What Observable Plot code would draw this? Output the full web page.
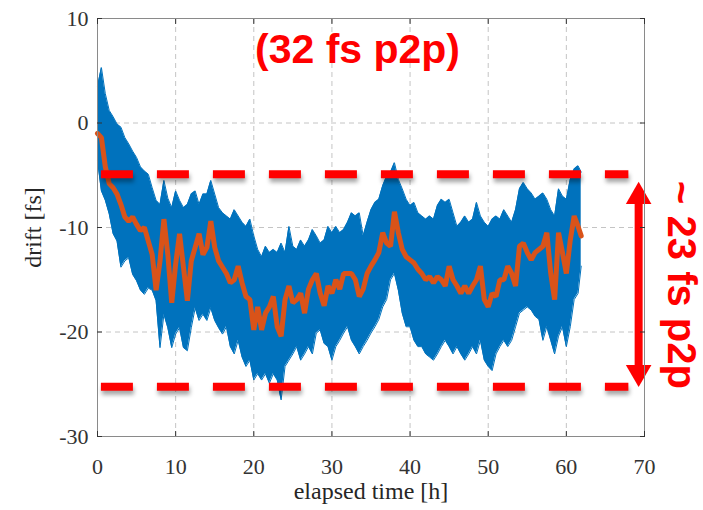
<!DOCTYPE html>
<html>
<head>
<meta charset="utf-8">
<script src="https://cdn.jsdelivr.net/npm/d3@7"></script>
<script src="https://cdn.jsdelivr.net/npm/@observablehq/plot@0.6"></script>
<style>
  html, body { margin: 0; padding: 0; background: #fff; }
  .shadow { filter: drop-shadow(1px 4px 2px rgba(0,0,0,0.35)); }
</style>
</head>
<body>
<div id="chart"></div>
<script>
// ---- data ----
const hours = [...d3.range(0, 61.6, 0.5), 61.9];

const driftUpper = [
  3.5, 5.3, 2.8, 1.2, 0.6, -0.1, -0.4, -1.4, -2.0, -2.7,
  -3.3, -4.2, -4.6, -4.9, -6.2, -7.4, -7.8, -5.5, -7.2, -8.1,
  -6.5, -7.4, -8.1, -7.8, -6.8, -6.5, -7.8, -6.8, -6.8, -5.5,
  -6.8, -8.1, -8.6, -8.9, -9.2, -8.3, -8.9, -9.5, -9.9, -9.2,
  -10.8, -12.1, -12.8, -11.8, -12.4, -12.1, -12.4, -11.5, -12.4, -9.9,
  -11.8, -12.1, -11.2, -11.8, -11.2, -10.2, -10.8, -11.5, -11.2, -9.9,
  -10.5, -9.9, -10.5, -10.2, -9.5, -8.6, -8.9, -8.6, -10.8, -9.5,
  -8.3, -7.6, -7.3, -6.0, -5.1, -4.7, -3.8, -5.4, -6.3, -7.3,
  -7.9, -7.6, -8.6, -8.9, -9.2, -8.9, -9.2, -7.9, -7.3, -7.6,
  -7.3, -8.6, -9.9, -9.5, -8.9, -9.5, -9.2, -7.6, -8.9, -9.5,
  -9.9, -9.2, -8.9, -9.2, -8.3, -8.9, -9.5, -8.3, -6.3, -5.7,
  -6.3, -6.7, -7.3, -7.0, -6.7, -7.3, -8.3, -8.9, -6.3, -7.0,
  -7.3, -5.4, -4.4, -4.1, -4.7
];

const driftLower = [
  -3.6, -6.5, -7.4, -8.7, -10.6, -11.3, -13.8, -13.2, -12.9, -14.5,
  -15.1, -16.0, -16.4, -15.8, -16.0, -17.0, -21.5, -18.3, -19.6, -21.5,
  -20.2, -19.6, -21.5, -21.8, -19.6, -17.7, -18.9, -18.3, -18.9, -17.7,
  -18.9, -19.6, -20.2, -19.5, -21.4, -22.1, -20.8, -22.4, -23.3, -22.7,
  -24.6, -24.0, -24.6, -24.0, -24.9, -24.0, -24.6, -26.5, -23.3, -22.7,
  -22.1, -21.4, -22.7, -22.1, -21.4, -22.1, -20.1, -19.8, -21.1, -21.4,
  -22.7, -21.4, -20.8, -20.1, -19.5, -20.8, -21.4, -22.1, -21.4, -20.8,
  -20.1, -19.5, -18.8, -17.6, -16.9, -15.0, -14.4, -16.0, -18.2, -19.5,
  -19.5, -20.8, -21.4, -21.4, -22.1, -22.4, -22.7, -22.1, -21.4, -20.8,
  -21.4, -22.1, -21.4, -22.1, -22.7, -22.1, -21.4, -22.1, -20.8, -22.7,
  -23.3, -23.7, -22.1, -21.4, -20.8, -21.4, -20.8, -19.5, -18.2, -17.9,
  -17.6, -17.9, -18.5, -18.8, -20.8, -19.5, -20.8, -22.1, -20.4, -19.5,
  -21.4, -19.5, -16.9, -16.3, -13.7
];

const driftSmooth = [
  -1.0, -1.4, -4.2, -5.8, -6.2, -6.8, -7.8, -9.0, -9.4, -9.0,
  -9.7, -10.3, -10.0, -11.3, -12.6, -16.0, -13.2, -9.2, -12.6, -17.2,
  -13.5, -10.6, -13.8, -17.0, -13.2, -11.9, -10.6, -12.6, -11.9, -9.4,
  -11.9, -13.2, -13.8, -14.4, -15.3, -15.0, -13.7, -15.3, -16.6, -16.9,
  -19.8, -17.6, -19.8, -18.2, -17.6, -16.6, -19.5, -20.4, -16.9, -15.6,
  -17.2, -16.9, -16.3, -18.2, -15.9, -15.0, -14.4, -16.3, -17.5, -15.6,
  -16.3, -15.0, -15.9, -14.4, -14.4, -14.4, -15.0, -16.6, -15.9, -14.4,
  -13.7, -13.1, -12.4, -10.5, -11.5, -11.8, -8.5, -10.5, -12.1, -12.8,
  -13.1, -13.4, -14.0, -14.4, -15.0, -14.7, -15.3, -14.7, -15.0, -15.6,
  -13.7, -15.0, -15.6, -16.3, -15.6, -16.3, -15.6, -15.0, -13.7, -16.9,
  -17.6, -16.3, -16.6, -15.0, -15.0, -13.7, -14.4, -15.6, -11.8, -11.5,
  -12.4, -13.1, -12.4, -12.1, -11.8, -10.5, -14.4, -16.9, -10.5, -12.4,
  -14.4, -11.2, -8.9, -9.9, -10.8
];

const xTicks = [0, 10, 20, 30, 40, 50, 60, 70];
const yTicks = [-30, -20, -10, 0, 10];

// annotations
const bandLevels = [-4.9, -25.25];   // dashed p2p limits [fs]
const bandStart = 0.5, bandEnd = 68;  // [h]
const arrowX = 69.25;                 // [h]
const arrowTop = -5.7, arrowBottom = -25.2;
const titleText = "(32 fs p2p)";
const sideText = "~ 23 fs p2p";

const data = hours.map((t, i) => ({t, hi: driftUpper[i], lo: driftLower[i], mid: driftSmooth[i]}));

const blue = "#0072BD", orange = "#D95319", red = "#FF0000";
const serif = "Liberation Serif";
const sans = "Liberation Sans";

const chart = Plot.plot({
  width: 703,
  height: 510,
  marginLeft: 97,
  marginRight: 59,
  marginTop: 18,
  marginBottom: 74,
  style: {fontFamily: serif, background: "white", overflow: "visible"},
  x: {domain: [0, 70]},
  y: {domain: [-30, 10]},
  marks: [
    Plot.gridX(xTicks, {stroke: "#c4c4c4", strokeOpacity: 1, strokeDasharray: "5,4"}),
    Plot.gridY(yTicks, {stroke: "#c4c4c4", strokeOpacity: 1, strokeDasharray: "5,4"}),
    Plot.areaY(data, {x: "t", y1: "lo", y2: "hi", fill: blue, curve: "linear"}),
    Plot.line(data, {x: "t", y: "hi", stroke: blue, strokeWidth: 1}),
    Plot.line(data, {x: "t", y: "lo", stroke: blue, strokeWidth: 1}),
    Plot.line(data, {x: "t", y: "mid", stroke: orange, strokeWidth: 5, strokeLinejoin: "miter"}),
    Plot.ruleY(bandLevels, {x1: bandStart, x2: bandEnd, stroke: red, strokeWidth: 8, strokeDasharray: "32,24", className: "shadow"}),
    Plot.ruleX([arrowX], {y1: arrowTop - 1.3, y2: arrowBottom + 1.3, stroke: red, strokeWidth: 8}),
    Plot.dot([arrowTop], {x: arrowX, y: d => d, symbol: "triangle", r: 9.5, fill: red, stroke: null, dy: 14}),
    Plot.dot([arrowBottom], {x: arrowX, y: d => d, symbol: "triangle", r: 9.5, fill: red, stroke: null, rotate: 180, dy: -14}),
    Plot.frame({stroke: "#8a8a8a"}),
    Plot.axisX(xTicks, {anchor: "bottom", tickSize: -5, tickPadding: 27, tickFormat: d => `${d}`, fontSize: 22, fontFamily: serif, label: null, color: "#333"}),
    Plot.axisX(xTicks, {anchor: "top", tickSize: -5, tickFormat: () => "", label: null, color: "#333"}),
    Plot.axisY(yTicks, {anchor: "left", tickSize: -5, tickPadding: 14, tickFormat: d => `${d}`, fontSize: 22, fontFamily: serif, label: null, color: "#333"}),
    Plot.axisY(yTicks, {anchor: "right", tickSize: -5, tickFormat: () => "", label: null, color: "#333"}),
    Plot.text(["elapsed time [h]"], {frameAnchor: "bottom", textAnchor: "middle", dy: 62, lineAnchor: "bottom", fontSize: 24, fontFamily: serif, fill: "#262626"}),
    Plot.text(["drift [fs]"], {frameAnchor: "left", textAnchor: "middle", dx: -57, rotate: -90, lineAnchor: "bottom", fontSize: 24, fontFamily: serif, fill: "#262626"}),
    Plot.text([titleText], {frameAnchor: "top", textAnchor: "middle", dx: -13.5, dy: 44, lineAnchor: "bottom", fontSize: 41, fontWeight: "bold", fontFamily: sans, fill: red}),
    Plot.text([sideText], {frameAnchor: "right", textAnchor: "middle", dx: 23, dy: 57.5, rotate: 90, lineAnchor: "bottom", fontSize: 40, fontWeight: "bold", fontFamily: sans, fill: red})
  ]
});

document.getElementById("chart").appendChild(chart);
</script>
</body>
</html>
